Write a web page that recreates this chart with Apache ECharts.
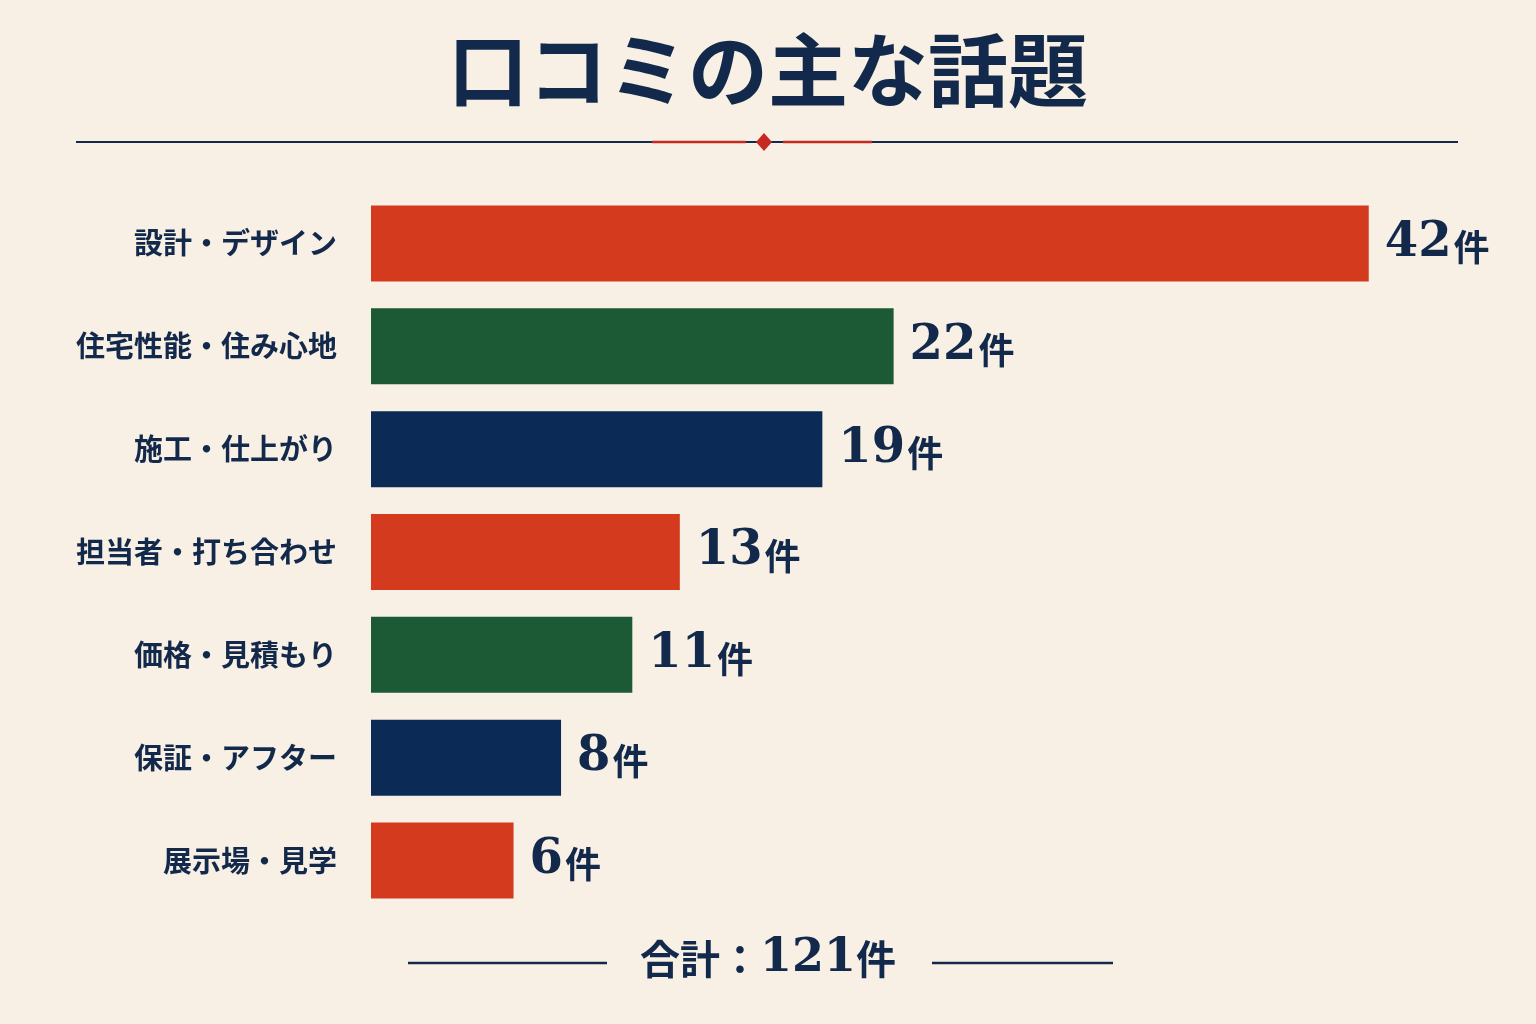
<!DOCTYPE html>
<html><head><meta charset="utf-8">
<script src="https://cdn.jsdelivr.net/npm/echarts@6/dist/echarts.min.js"></script>
<style>html,body{margin:0;padding:0;background:#F8F0E4;}#c{width:1536px;height:1024px;}</style>
</head><body><div id="c"></div>
<script>
const categories = ['設計・デザイン','住宅性能・住み心地','施工・仕上がり','担当者・打ち合わせ','価格・見積もり','保証・アフター','展示場・見学'];
const values = [42,22,19,13,11,8,6];
const barColors = ['#D33A1E','#1B5A34','#0B2A55','#D33A1E','#1B5A34','#0B2A55','#D33A1E'];
const unit = '件';
const titleText = '口コミの主な話題';
const totalLabel = '合計：';

const navy = '#13294B';
const red = '#C62A1E';
const serif = '"DejaVu Serif","Liberation Serif","Noto Sans CJK JP",serif';
const sans = '"Noto Sans CJK JP","Noto Sans",sans-serif';
const total = values.reduce((a,b)=>a+b,0);

const chart = echarts.init(document.getElementById('c'));
chart.setOption({
  backgroundColor: '#F8F0E4',
  title: {
    text: titleText, left: 'center', top: 34,
    textStyle: {fontFamily: serif, fontSize: 80, fontWeight: 'bold', color: navy, letterSpacing: 12}
  },
  grid: {left: 371, right: 96, top: 192, bottom: 112, containLabel: false},
  xAxis: {type: 'value', min: 0, max: 45, show: false},
  yAxis: {
    type: 'category', data: categories, inverse: true,
    axisLine: {show: false}, axisTick: {show: false},
    axisLabel: {margin: 34, fontFamily: sans, fontSize: 29, fontWeight: 'bold', color: navy}
  },
  series: [{
    type: 'bar', barWidth: 76,
    data: values.map((v,i)=>({value: v, itemStyle: {color: barColors[i]}})),
    label: {
      show: true, position: 'right', distance: 16,
      formatter: p => '{n|' + p.value + '}{u|' + unit + '}',
      rich: {
        n: {fontFamily: serif, fontSize: 48, fontWeight: 'bold', color: navy},
        u: {fontFamily: sans, fontSize: 36, fontWeight: 'bold', color: navy, padding: [8,0,0,2]}
      }
    },
    animation: false
  }],
  graphic: [
    {type: 'line', shape: {x1: 76, y1: 142, x2: 1458, y2: 142}, style: {stroke: navy, lineWidth: 2}},
    {type: 'line', shape: {x1: 652, y1: 142, x2: 746, y2: 142}, style: {stroke: red, lineWidth: 2.5}},
    {type: 'line', shape: {x1: 783, y1: 142, x2: 872, y2: 142}, style: {stroke: red, lineWidth: 2.5}},
    {type: 'polygon', shape: {points: [[764,133],[772,142],[764,151],[756,142]]}, style: {fill: red}},
    {type: 'line', shape: {x1: 408, y1: 963, x2: 607, y2: 963}, style: {stroke: navy, lineWidth: 2.5}},
    {type: 'line', shape: {x1: 932, y1: 963, x2: 1113, y2: 963}, style: {stroke: navy, lineWidth: 2.5}},
    {type: 'text', left: 'center', top: 936, style: {
      text: '{a|' + totalLabel + '}{b|' + total + '}{c|' + unit + '}',
      rich: {
        a: {fontFamily: sans, fontSize: 40, fontWeight: 'bold', fill: navy, color: navy},
        b: {fontFamily: serif, fontSize: 46, fontWeight: 'bold', fill: navy, color: navy},
        c: {fontFamily: sans, fontSize: 40, fontWeight: 'bold', fill: navy, color: navy}
      }
    }}
  ]
});
</script>
</body></html>
